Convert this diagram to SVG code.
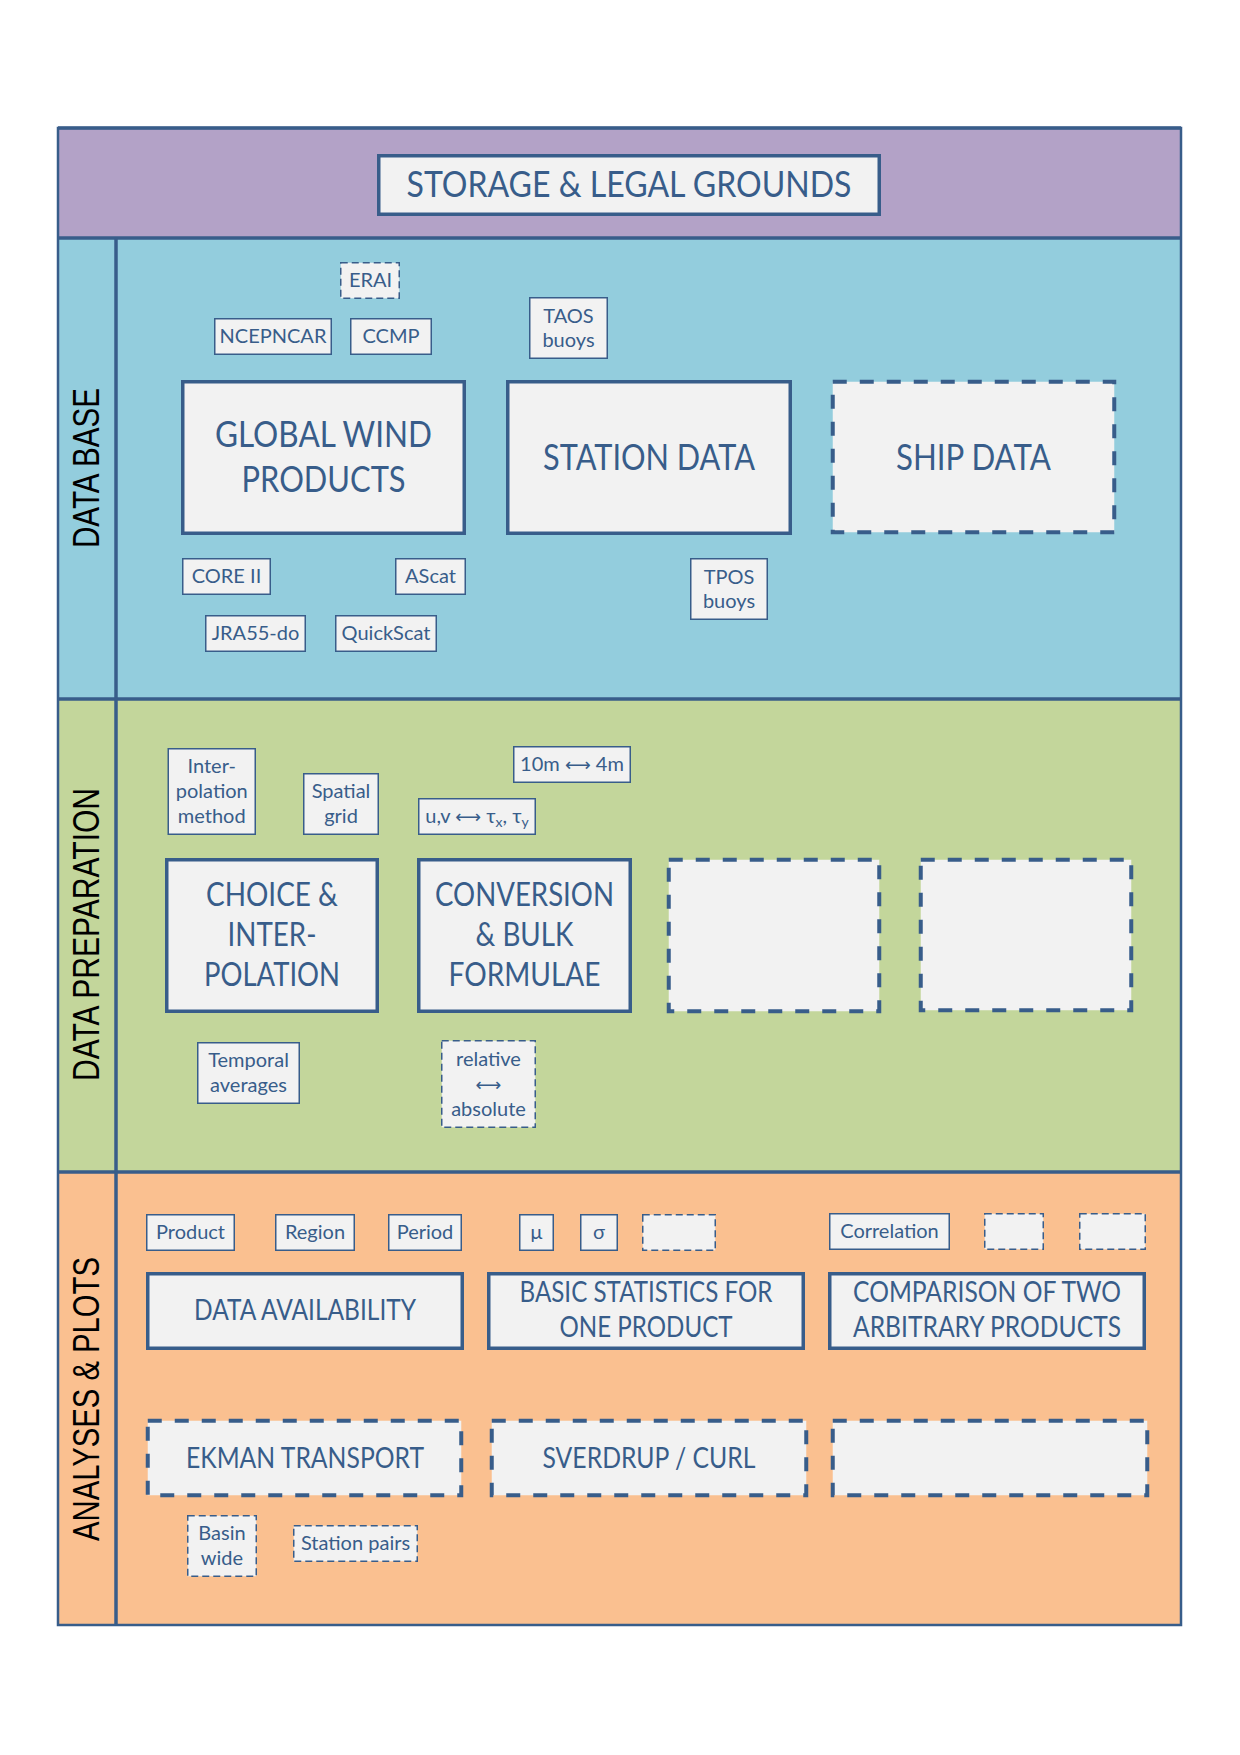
<svg xmlns="http://www.w3.org/2000/svg" width="1240" height="1755" viewBox="0 0 1240 1755">
<style>
.thick{fill:#F2F2F2;stroke:#385D8A;stroke-width:3.5}
.thickd{fill:#F2F2F2;stroke:#385D8A;stroke-width:4;stroke-dasharray:14 13}
.small{fill:#F2F2F2;stroke:#385D8A;stroke-width:1.5}
.smalld{fill:#F2F2F2;stroke:#385D8A;stroke-width:1.5;stroke-dasharray:7 4}
.t{font-family:Lato,'Liberation Sans',sans-serif;fill:#385D8A;text-anchor:middle}
.big{font-size:37px}
.mid{font-size:33px}
.lg{font-size:28px}
.sm{font-size:20px}
.arr{font-family:'DejaVu Sans',sans-serif;font-size:18px}
.lab{font-family:'Liberation Sans',Arial,sans-serif;font-size:36px;fill:#000;text-anchor:middle}
.div{stroke:#385D8A;stroke-width:3.5;fill:none}
</style>
<rect width="1240" height="1755" fill="#FFFFFF"/>
<g id="bands">
<rect x="58" y="128" width="1123" height="110" fill="#B3A2C7"/>
<rect x="58" y="238" width="1123" height="461" fill="#93CDDD"/>
<rect x="58" y="699" width="1123" height="473" fill="#C3D69B"/>
<rect x="58" y="1172" width="1123" height="453" fill="#FAC090"/>
<rect x="58" y="128" width="1123" height="1497" fill="none" stroke="#385D8A" stroke-width="2.5"/>
<line class="div" x1="58" y1="128" x2="1181" y2="128"/>
<line class="div" x1="58" y1="238" x2="1181" y2="238"/>
<line class="div" x1="58" y1="699" x2="1181" y2="699"/>
<line class="div" x1="58" y1="1172" x2="1181" y2="1172"/>
<line class="div" x1="116" y1="238" x2="116" y2="1625" stroke-width="4"/>
<text class="lab" transform="translate(99,468) rotate(-90)" textLength="160" lengthAdjust="spacingAndGlyphs">DATA BASE</text>
<text class="lab" transform="translate(99,934.5) rotate(-90)" textLength="293" lengthAdjust="spacingAndGlyphs">DATA PREPARATION</text>
<text class="lab" transform="translate(99,1399) rotate(-90)" textLength="284" lengthAdjust="spacingAndGlyphs">ANALYSES &amp; PLOTS</text>
</g>
<g id="connectors"/>
<g id="storage"><rect class="thick" x="378.75" y="155.75" width="500.5" height="58.5"/><text class="t big" x="629" y="197" textLength="445" lengthAdjust="spacingAndGlyphs">STORAGE &amp; LEGAL GROUNDS</text></g>

<g id="erai"><rect class="smalld" x="340.75" y="262.75" width="58.5" height="35.5"/><text class="t sm" x="370.5" y="287">ERAI</text></g>
<g id="ncepncar"><rect class="small" x="214.75" y="318.75" width="116.5" height="35.5"/><text class="t sm" x="273" y="343">NCEPNCAR</text></g>
<g id="ccmp"><rect class="small" x="350.75" y="318.75" width="80.5" height="35.5"/><text class="t sm" x="391" y="343">CCMP</text></g>
<g id="taos"><rect class="small" x="529.75" y="297.75" width="77.5" height="60.5"/><text class="t sm" x="568.5" y="323">TAOS</text><text class="t sm" x="568.5" y="347">buoys</text></g>
<g id="global"><rect class="thick" x="182.75" y="381.75" width="281.5" height="151.5"/><text class="t big" x="323.5" y="447" textLength="217" lengthAdjust="spacingAndGlyphs">GLOBAL WIND</text><text class="t big" x="323.5" y="492" textLength="164" lengthAdjust="spacingAndGlyphs">PRODUCTS</text></g>
<g id="station"><rect class="thick" x="507.75" y="381.75" width="282.5" height="151.5"/><text class="t big" x="649" y="470" textLength="212" lengthAdjust="spacingAndGlyphs">STATION DATA</text></g>
<g id="ship"><rect class="thickd" x="832.75" y="381.75" width="281.5" height="150.5"/><text class="t big" x="973.5" y="470" textLength="155" lengthAdjust="spacingAndGlyphs">SHIP DATA</text></g>
<g id="core2"><rect class="small" x="182.75" y="558.75" width="87.5" height="35.5"/><text class="t sm" x="226.5" y="583">CORE II</text></g>
<g id="ascat"><rect class="small" x="395.75" y="558.75" width="69.5" height="35.5"/><text class="t sm" x="430.5" y="583">AScat</text></g>
<g id="jra55"><rect class="small" x="205.75" y="615.75" width="99.5" height="35.5"/><text class="t sm" x="255.5" y="640">JRA55-do</text></g>
<g id="quickscat"><rect class="small" x="335.75" y="615.75" width="100.5" height="35.5"/><text class="t sm" x="386" y="640">QuickScat</text></g>
<g id="tpos"><rect class="small" x="690.75" y="558.75" width="76.5" height="60.5"/><text class="t sm" x="729" y="584">TPOS</text><text class="t sm" x="729" y="608">buoys</text></g>

<g id="interp-method"><rect class="small" x="168.25" y="748.75" width="87" height="85.5"/><text class="t sm" x="211.75" y="773">Inter-</text><text class="t sm" x="211.75" y="798">polation</text><text class="t sm" x="211.75" y="823">method</text></g>
<g id="spatial"><rect class="small" x="303.75" y="773.75" width="74.5" height="60.5"/><text class="t sm" x="341" y="798">Spatial</text><text class="t sm" x="341" y="823">grid</text></g>
<g id="height"><rect class="small" x="513.75" y="746.75" width="116.5" height="35.5"/><text class="t sm" x="572" y="771">10m <tspan class="arr">⟷</tspan> 4m</text></g>
<g id="uvtau"><rect class="small" x="418.75" y="798.75" width="116.5" height="35.5"/><text class="t sm" x="477" y="823">u,v <tspan class="arr">⟷</tspan> τ<tspan font-size="14" dy="4">x</tspan><tspan dy="-4">, τ</tspan><tspan font-size="14" dy="4">y</tspan></text></g>
<g id="choice"><rect class="thick" x="166.75" y="859.75" width="210.5" height="151.5"/><text class="t mid" x="272" y="906" textLength="132" lengthAdjust="spacingAndGlyphs">CHOICE &amp;</text><text class="t mid" x="272" y="946" textLength="89" lengthAdjust="spacingAndGlyphs">INTER-</text><text class="t mid" x="272" y="986" textLength="136" lengthAdjust="spacingAndGlyphs">POLATION</text></g>
<g id="conversion"><rect class="thick" x="418.75" y="859.75" width="211.5" height="151.5"/><text class="t mid" x="524.5" y="906" textLength="179" lengthAdjust="spacingAndGlyphs">CONVERSION</text><text class="t mid" x="524.5" y="946" textLength="98" lengthAdjust="spacingAndGlyphs">&amp; BULK</text><text class="t mid" x="524.5" y="986" textLength="152" lengthAdjust="spacingAndGlyphs">FORMULAE</text></g>
<g id="prep-empty1"><rect class="thickd" x="668.75" y="859.75" width="210.5" height="151.5"/></g>
<g id="prep-empty2"><rect class="thickd" x="920.75" y="859.75" width="210.5" height="150.5"/></g>
<g id="temporal"><rect class="small" x="197.75" y="1042.75" width="101.5" height="60.5"/><text class="t sm" x="248.5" y="1067">Temporal</text><text class="t sm" x="248.5" y="1092">averages</text></g>
<g id="relabs"><rect class="smalld" x="441.75" y="1040.75" width="93.5" height="86.5"/><text class="t sm" x="488.5" y="1066">relative</text><text class="t arr" x="488.5" y="1091">⟷</text><text class="t sm" x="488.5" y="1116">absolute</text></g>

<g id="product"><rect class="small" x="146.75" y="1214.75" width="87.5" height="35.5"/><text class="t sm" x="190.5" y="1239">Product</text></g>
<g id="region"><rect class="small" x="275.75" y="1214.75" width="78.5" height="35.5"/><text class="t sm" x="315" y="1239">Region</text></g>
<g id="period"><rect class="small" x="388.75" y="1214.75" width="72.5" height="35.5"/><text class="t sm" x="425" y="1239">Period</text></g>
<g id="mu"><rect class="small" x="519.75" y="1214.75" width="33.5" height="35.5"/><text class="t sm" x="536.5" y="1239">µ</text></g>
<g id="sigma"><rect class="small" x="580.75" y="1214.75" width="36.5" height="35.5"/><text class="t sm" x="599" y="1239">σ</text></g>
<g id="stat-empty"><rect class="smalld" x="642.75" y="1214.75" width="72.5" height="35.5"/></g>
<g id="correlation"><rect class="small" x="829.75" y="1213.75" width="119.5" height="35.5"/><text class="t sm" x="889.5" y="1238">Correlation</text></g>
<g id="comp-empty1"><rect class="smalld" x="984.75" y="1213.75" width="58.5" height="35.5"/></g>
<g id="comp-empty2"><rect class="smalld" x="1079.75" y="1213.75" width="65.5" height="35.5"/></g>
<g id="availability"><rect class="thick" x="147.75" y="1273.75" width="314.5" height="74.5"/><text class="t lg" x="305" y="1320" textLength="222" lengthAdjust="spacingAndGlyphs">DATA AVAILABILITY</text></g>
<g id="basicstats"><rect class="thick" x="488.75" y="1273.75" width="314.5" height="74.5"/><text class="t lg" x="646" y="1302" textLength="253" lengthAdjust="spacingAndGlyphs">BASIC STATISTICS FOR</text><text class="t lg" x="646" y="1337" textLength="173" lengthAdjust="spacingAndGlyphs">ONE PRODUCT</text></g>
<g id="comparison"><rect class="thick" x="829.75" y="1273.75" width="314.5" height="74.5"/><text class="t lg" x="987" y="1302" textLength="268" lengthAdjust="spacingAndGlyphs">COMPARISON OF TWO</text><text class="t lg" x="987" y="1337" textLength="268" lengthAdjust="spacingAndGlyphs">ARBITRARY PRODUCTS</text></g>
<g id="ekman"><rect class="thickd" x="147.75" y="1420.75" width="313.5" height="74.5"/><text class="t lg" x="305" y="1468" textLength="238" lengthAdjust="spacingAndGlyphs">EKMAN TRANSPORT</text></g>
<g id="sverdrup"><rect class="thickd" x="491.75" y="1420.75" width="314.5" height="74.5"/><text class="t lg" x="649" y="1468" textLength="213" lengthAdjust="spacingAndGlyphs">SVERDRUP / CURL</text></g>
<g id="analysis-empty"><rect class="thickd" x="832.75" y="1420.75" width="314.5" height="74.5"/></g>
<g id="basin"><rect class="smalld" x="187.75" y="1515.75" width="68.5" height="60.5"/><text class="t sm" x="222" y="1540">Basin</text><text class="t sm" x="222" y="1565">wide</text></g>
<g id="pairs"><rect class="smalld" x="293.75" y="1525.75" width="123.5" height="35.5"/><text class="t sm" x="355.5" y="1550">Station pairs</text></g>
</svg>
